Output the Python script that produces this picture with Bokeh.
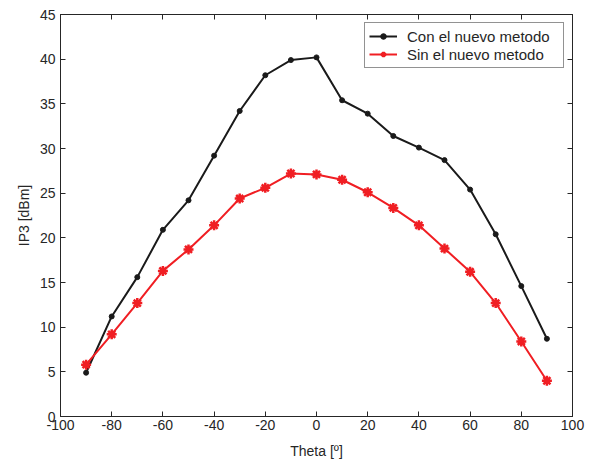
from bokeh.plotting import figure
from bokeh.models import LinearAxis, Range1d, FixedTicker, Legend, LegendItem
from bokeh.embed import file_html
from bokeh.resources import INLINE

theta = [-90, -80, -70, -60, -50, -40, -30, -20, -10, 0, 10, 20, 30, 40, 50, 60, 70, 80, 90]
con_metodo = [4.9, 11.2, 15.6, 20.9, 24.2, 29.2, 34.2, 38.2, 39.9, 40.2, 35.4, 33.9, 31.4, 30.1, 28.7, 25.4, 20.4, 14.6, 8.7]
sin_metodo = [5.8, 9.2, 12.7, 16.3, 18.7, 21.4, 24.4, 25.6, 27.2, 27.1, 26.5, 25.1, 23.35, 21.4, 18.8, 16.2, 12.7, 8.4, 4.0]
x_ticks = [-100, -80, -60, -40, -20, 0, 20, 40, 60, 80, 100]
y_ticks = [0, 5, 10, 15, 20, 25, 30, 35, 40, 45]
label_con = "Con el nuevo metodo"
label_sin = "Sin el nuevo metodo"
x_label = "Theta [º]"
y_label = "IP3 [dBm]"

FONT = "Liberation Sans"
AX = "#262626"
RED = "#f01e23"
BLK = "#1a1a1a"

p = figure(width=595, height=461, output_backend="svg", toolbar_location=None,
           x_range=Range1d(-100, 100), y_range=Range1d(0, 45),
           min_border_left=60, min_border_right=23, min_border_top=14, min_border_bottom=43)
p.xgrid.visible = False
p.ygrid.visible = False
p.outline_line_color = AX
p.outline_line_width = 1
p.background_fill_color = "white"
p.border_fill_color = "white"

for ax, ticks in ((p.xaxis[0], x_ticks), (p.yaxis[0], y_ticks)):
    ax.ticker = FixedTicker(ticks=ticks)
    ax.major_label_overrides = {t: str(t) for t in ticks}
    ax.major_tick_in = 5
    ax.major_tick_out = 0
    ax.minor_tick_in = 0
    ax.minor_tick_out = 0
    ax.axis_line_color = AX
    ax.major_tick_line_color = AX
    ax.major_label_text_font = FONT
    ax.major_label_text_font_size = "14px"
    ax.major_label_text_color = AX
    ax.axis_label_text_font = FONT
    ax.axis_label_text_font_size = "14px"
    ax.axis_label_text_font_style = "normal"
    ax.axis_label_text_color = AX

p.xaxis[0].axis_label = x_label
p.yaxis[0].axis_label = y_label
p.xaxis[0].major_label_standoff = 3
p.xaxis[0].axis_label_standoff = 10
p.yaxis[0].major_label_standoff = 5
p.yaxis[0].axis_label_standoff = 5

top = LinearAxis(ticker=FixedTicker(ticks=x_ticks), major_tick_in=5, major_tick_out=0,
                 minor_tick_in=0, minor_tick_out=0, major_label_text_font_size="1px",
                 major_label_text_color=None,
                 major_label_standoff=0, axis_line_color=AX, major_tick_line_color=AX)
right = LinearAxis(ticker=FixedTicker(ticks=y_ticks), major_tick_in=5, major_tick_out=0,
                   minor_tick_in=0, minor_tick_out=0, major_label_text_font_size="1px",
                   major_label_text_color=None,
                   major_label_standoff=0, axis_line_color=AX, major_tick_line_color=AX)
p.add_layout(top, "above")
p.add_layout(right, "right")

l1 = p.line(theta, con_metodo, line_color=BLK, line_width=2)
m1 = p.scatter(theta, con_metodo, marker="circle", size=5, fill_color=BLK, line_color=BLK)
l2 = p.line(theta, sin_metodo, line_color=RED, line_width=2)
m2 = p.scatter(theta, sin_metodo, marker="asterisk", size=10, line_color=RED, line_width=2.5)

legend = Legend(items=[LegendItem(label=label_con, renderers=[l1, m1]),
                       LegendItem(label=label_sin, renderers=[l2, m2])],
                location="top_right", margin=8, padding=4, spacing=0,
                label_height=18, glyph_height=14, glyph_width=28, label_standoff=10,
                label_width=152, label_text_font=FONT, label_text_font_size="15px",
                label_text_color=AX, border_line_color=AX, border_line_width=1,
                background_fill_alpha=1)
p.add_layout(legend)

open("out.html", "w").write(file_html(p, INLINE))
